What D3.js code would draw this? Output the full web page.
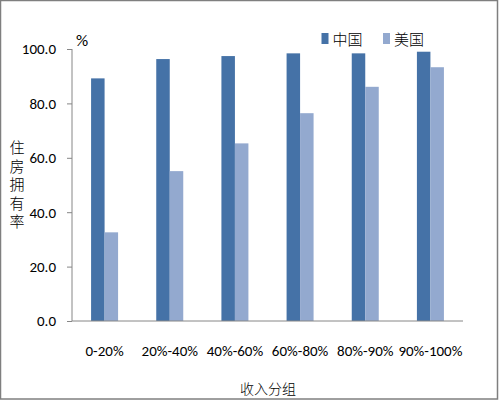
<!DOCTYPE html>
<html>
<head>
<meta charset="utf-8">
<script src="https://cdn.jsdelivr.net/npm/d3@7"></script>
<style>
  body { margin: 0; background: #fff; }
  svg { display: block; }
  .tick text { font-family: Carlito, "Liberation Sans Narrow", "Liberation Sans", sans-serif; font-size: 15px; fill: #000; }
  .cjk { font-family: "Noto Sans CJK SC", sans-serif; font-weight: 300; font-size: 15px; fill: #000; }
</style>
</head>
<body>
<svg width="500" height="401"></svg>
<script>
// categories and series
const groups = ["0-20%", "20%-40%", "40%-60%", "60%-80%", "80%-90%", "90%-100%"];
const china = [89.2, 96.3, 97.4, 98.4, 98.4, 99.0];
const usa = [32.6, 55.1, 65.3, 76.4, 86.1, 93.3];
const seriesNames = ["中国", "美国"];
const yTicks = [0, 20, 40, 60, 80, 100];

const colors = ["#4572a7", "#93a9cf"];

let svg = d3.select("svg");

// outer frame
svg.append("rect")
    .attr("x", 0.5).attr("y", 0.5)
    .attr("width", 497).attr("height", 398.5)
    .attr("fill", "none")
    .attr("stroke", "#7f7f7f")
    .attr("stroke-width", 1.5);

const plotL = 72, plotT = 49, plotR = 463, plotB = 321;

let yScale = d3.scaleLinear()
    .domain([0, 100])
    .range([plotB, plotT]);

let xScale = d3.scaleBand()
    .domain(groups)
    .range([plotL, plotR])
    .paddingInner(0)
    .paddingOuter(0);

const barW = 13.5;

let chart = svg.append("g");

// y axis
let yAxis = chart.append("g")
    .attr("transform", "translate(" + plotL + ",0)")
    .call(d3.axisLeft(yScale).tickValues(yTicks).tickFormat(d3.format(".1f")).tickSize(5).tickPadding(11));
yAxis.select(".domain").attr("stroke", "#868686").attr("d", "M0," + plotT + "V" + plotB);
yAxis.selectAll(".tick line").attr("stroke", "#868686");

// bars
const data = groups.map((g, i) => ({ g: g, vals: [china[i], usa[i]] }));

let grp = chart.selectAll(".grp")
    .data(data)
    .enter().append("g")
    .attr("class", "grp");

grp.selectAll("rect")
    .data(d => d.vals.map((v, k) => ({ g: d.g, v: v, k: k })))
    .enter().append("rect")
    .attr("x", d => xScale(d.g) + xScale.bandwidth() / 2 - barW + d.k * barW)
    .attr("y", d => yScale(d.v))
    .attr("width", barW)
    .attr("height", d => plotB - yScale(d.v))
    .attr("fill", d => colors[d.k]);

// x axis
let xAxis = chart.append("g")
    .attr("transform", "translate(0," + plotB + ")")
    .call(d3.axisBottom(xScale).tickSize(0).tickPadding(24));
xAxis.select(".domain").attr("stroke", "#868686").attr("d", "M" + plotL + ",0H" + plotR);

// unit label
svg.append("text")
    .attr("x", 76).attr("y", 46)
    .attr("font-family", "Carlito, 'Liberation Sans Narrow', sans-serif")
    .attr("font-size", 17)
    .text("%");

// y title, written top to bottom
svg.append("text")
    .attr("class", "cjk")
    .attr("x", 17).attr("y", 140)
    .style("writing-mode", "vertical-rl")
    .style("letter-spacing", "3.5px")
    .text("住房拥有率");

// x title
svg.append("text")
    .attr("class", "cjk")
    .attr("x", 268).attr("y", 394)
    .attr("text-anchor", "middle")
    .style("font-size", "14px")
    .text("收入分组");

// legend
const legendX = [321.5, 383];
let leg = svg.selectAll(".leg")
    .data(seriesNames)
    .enter().append("g")
    .attr("class", "leg")
    .attr("transform", (d, i) => "translate(" + legendX[i] + ",0)");
leg.append("rect")
    .attr("x", 0).attr("y", 33)
    .attr("width", 7).attr("height", 11)
    .attr("fill", (d, i) => colors[i]);
leg.append("text")
    .attr("class", "cjk")
    .attr("x", 11).attr("y", 45)
    .text(d => d);
</script>
</body>
</html>
